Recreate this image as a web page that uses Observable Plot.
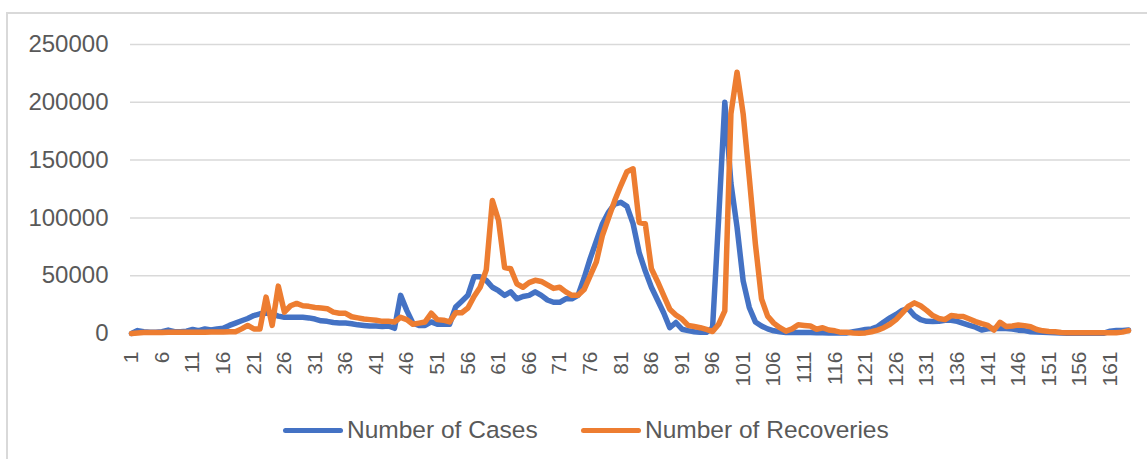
<!DOCTYPE html>
<html>
<head>
<meta charset="utf-8">
<script src="https://cdn.jsdelivr.net/npm/d3@7"></script>
<script src="https://cdn.jsdelivr.net/npm/@observablehq/plot@0.6"></script>
<style>
  html, body { margin: 0; padding: 0; background: #fff; }
  body { width: 1147px; height: 459px; overflow: hidden; position: relative; font-family: "Liberation Sans", Arial, sans-serif; }
  #frame { position: absolute; left: 6px; top: 12px; width: 1200px; height: 500px; border-left: 2px solid #d9d9d9; border-top: 2px solid #d9d9d9; }
  #chart { position: absolute; left: 0; top: 0; }
  .leg { position: absolute; top: 416px; height: 28px; display: flex; align-items: center; font-size: 24.5px; color: #595959; white-space: nowrap; }
  .sw { display: inline-block; width: 60px; height: 5px; border-radius: 3px; margin-right: 4px; }
</style>
</head>
<body>
<div id="frame"></div>
<div id="chart"></div>
<div class="leg" style="left:283px"><span class="sw" style="background:#4472C4"></span>Number of Cases</div>
<div class="leg" style="left:581px"><span class="sw" style="background:#ED7D31"></span>Number of Recoveries</div>
<script>
const dayIndex = d3.range(1, 165);
const cases = [
  0, 2500, 1500, 1000, 1000, 1500, 3000, 1500, 1500, 2000,
  3500, 2500, 4000, 3000, 4000, 4500, 7000, 9000, 11000, 13000,
  15500, 17000, 17500, 17500, 15000, 14000, 14000, 14000, 14000, 13500,
  12500, 11000, 10500, 9500, 9000, 9000, 8500, 7500, 7000, 6500,
  6500, 6000, 6500, 4500, 33000, 20000, 9000, 7000, 7000, 10000,
  8000, 8000, 8000, 23000, 28000, 33000, 49000, 49000, 46000, 40000,
  37000, 33000, 36000, 30000, 32000, 33000, 36000, 33000, 29000, 27000,
  27000, 30000, 30000, 33000, 48000, 65000, 80000, 95000, 105000, 112000,
  113500, 110000, 95000, 70000, 54000, 40000, 29000, 18000, 5000, 9500,
  3700, 2500, 1500, 1000, 1000, 5000, 100000, 200000, 130000, 92000,
  45500, 22500, 10000, 6500, 4000, 2300, 1500, 900, 900, 900,
  800, 800, 700, 600, 500, 500, 500, 500, 1500, 2500,
  3500, 4000, 6000, 10000, 13500, 16500, 20000, 21500, 15500, 12000,
  10500, 10300, 10500, 11500, 11500, 10500, 8800, 7000, 5500, 3000,
  4000, 4400, 4400, 4400, 3800, 2900, 2500, 1500, 1200, 1000,
  900, 600, 400, 300, 300, 300, 300, 300, 300, 300,
  2000, 2500, 2700, 3000
];
const recoveries = [
  0, 500, 800, 800, 800, 800, 1000, 1000, 1000, 1000,
  1000, 1000, 1000, 1200, 1200, 1200, 1500, 1500, 4000, 7000,
  4000, 4000, 31500, 7000, 41000, 18500, 24000, 26000, 24000, 23500,
  22500, 22000, 21500, 18500, 17500, 17500, 14500, 13500, 12500, 12000,
  11500, 10500, 10500, 10000, 14000, 12000, 8000, 9000, 10000, 17500,
  12000, 11500, 10000, 18000, 18000, 22000, 32000, 40000, 55000, 115000,
  98000, 57000, 56000, 43000, 40000, 44000, 46000, 45000, 42000, 39000,
  40000, 36000, 33000, 33000, 38000, 50000, 62000, 85000, 100000, 115000,
  128000, 140000, 142500, 96000, 95000, 56000, 45000, 33000, 21000, 16000,
  12500, 7000, 6000, 5000, 3500, 1700, 8000, 19500, 190000, 226000,
  190000, 135000, 77500, 30000, 15000, 9000, 5000, 2000, 4000, 7500,
  7000, 6500, 3700, 5000, 3000, 2300, 1000, 1000, 500, 300,
  500, 1500, 2900, 5000, 8000, 12000, 17600, 23500, 26500, 24000,
  20000, 15500, 13000, 12000, 15500, 15000, 14700, 12500, 10300, 8500,
  7000, 2900, 9700, 6000, 6500, 7400, 6800, 5900, 3500, 2300,
  1800, 1500, 800, 600, 600, 600, 600, 600, 600, 600,
  600, 700, 1200, 2500
];
const xTicks = d3.range(1, 162, 5);
const yTicks = [0, 50000, 100000, 150000, 200000, 250000];

const data = dayIndex.map((d, k) => ({day: d, cases: cases[k], recoveries: recoveries[k]}));

const chart = Plot.plot({
  width: 1147,
  height: 395,
  marginLeft: 131,
  marginRight: 19,
  marginTop: 44,
  marginBottom: 62,
  style: {fontFamily: '"Liberation Sans", Arial, sans-serif', background: "transparent", overflow: "visible"},
  x: {type: "linear", domain: [1, 164], label: null},
  y: {domain: [0, 250000], label: null},
  marks: [
    Plot.gridY(yTicks, {stroke: "#d9d9d9", strokeOpacity: 1, strokeWidth: 1.5, insetLeft: -1, insetRight: -2}),
    Plot.axisY(yTicks, {tickSize: 0, tickPadding: 23, fontSize: 24, fill: "#595959", tickFormat: d => String(d), label: null}),
    Plot.axisX(xTicks, {tickSize: 0, tickRotate: -90, tickPadding: 18, fontSize: 21, fill: "#595959", tickFormat: d => String(d), label: null}),
    Plot.lineY(data, {x: "day", y: "cases", stroke: "#4472C4", strokeWidth: 5.5, strokeLinejoin: "round", strokeLinecap: "round"}),
    Plot.lineY(data, {x: "day", y: "recoveries", stroke: "#ED7D31", strokeWidth: 5.5, strokeLinejoin: "round", strokeLinecap: "round"})
  ]
});
document.getElementById("chart").appendChild(chart);
</script>
</body>
</html>
